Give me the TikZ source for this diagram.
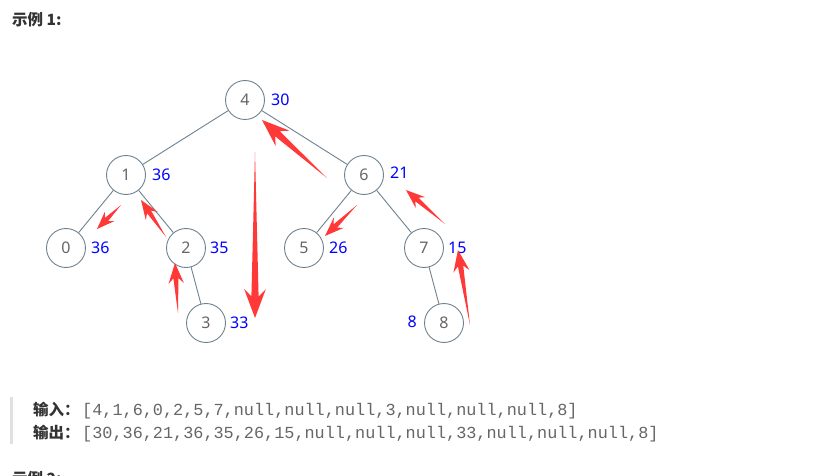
\documentclass[tikz,border=0pt]{standalone}
\usepackage{fontspec}
\setmainfont{Noto Sans}
\newfontfamily\cjk{Noto Sans CJK SC}
\setmonofont{Liberation Mono}
\usetikzlibrary{calc}
\definecolor{edgec}{HTML}{6F8290}
\definecolor{numc}{HTML}{666666}
\definecolor{valc}{HTML}{0000FF}
\definecolor{arr}{HTML}{FF3838}
\definecolor{txt}{HTML}{333333}
\definecolor{code}{HTML}{666666}
\tikzset{
  tn/.style={circle,draw=edgec,line width=0.9pt,minimum size=39pt,inner sep=0pt,
    font=\fontsize{16}{16}\selectfont,text=numc},
  val/.style={font=\fontsize{16}{16}\selectfont,text=valc,inner sep=0pt},
  edge/.style={draw=edgec,line width=0.9pt},
  codetext/.style={font=\ttfamily\fontsize{16.85}{16.85}\selectfont,text=code,inner sep=0pt,anchor=base west},
  label/.style={font=\cjk\bfseries\fontsize{15.5}{15.5}\selectfont,text=txt,inner sep=0pt,anchor=base west}
}
\newcommand\redarrow[3][1]{%
  \path ($(#3)!#1*18pt!(#2)$) coordinate (ra-b) ($(#3)!#1*24pt!(#2)$) coordinate (ra-w);
  \fill[arr] (#2) -- ($(ra-b)!#1*3pt!90:(#3)$) -- ($(ra-w)!#1*9pt!90:(#3)$) -- (#3)
    -- ($(ra-w)!#1*9pt!-90:(#3)$) -- ($(ra-b)!#1*3pt!-90:(#3)$) -- cycle;}
\begin{document}
\begin{tikzpicture}[x=1pt,y=-1pt]
\useasboundingbox[fill=white] (0,0) rectangle (828,476);
% title
\node[label] (t1) at (12,26) {示例 1:};
% tree nodes
\node[tn] (n4) at (245,100) {4};
\node[tn] (n1) at (126,175) {1};
\node[tn] (n6) at (364,175) {6};
\node[tn] (n0) at (66,248) {0};
\node[tn] (n2) at (186,248) {2};
\node[tn] (n5) at (304,248) {5};
\node[tn] (n7) at (424,248) {7};
\node[tn] (n3) at (206,323) {3};
\node[tn] (n8) at (444,323) {8};
% edges
\draw[edge] (n4) -- (n1);
\draw[edge] (n4) -- (n6);
\draw[edge] (n1) -- (n0);
\draw[edge] (n1) -- (n2);
\draw[edge] (n6) -- (n5);
\draw[edge] (n6) -- (n7);
\draw[edge] (n2) -- (n3);
\draw[edge] (n7) -- (n8);
% values
\node[val,anchor=west] (v4) at (271,100) {30};
\node[val,anchor=west] (v1) at (152,175) {36};
\node[val,anchor=west] (v6) at (390,173) {21};
\node[val,anchor=west] (v0) at (91,248) {36};
\node[val,anchor=west] (v2) at (210,248) {35};
\node[val,anchor=west] (v5) at (329,248) {26};
\node[val,anchor=west] (v7) at (448,248) {15};
\node[val,anchor=west] (v3) at (230,323) {33};
\node[val,anchor=east] (v8) at (417,322) {8};
% red arrows
\coordinate (a1t) at (327,178); \coordinate (a1h) at (262,120);
\coordinate (a2t) at (255,152); \coordinate (a2h) at (255,318);
\coordinate (a3t) at (121,205); \coordinate (a3h) at (97,229);
\coordinate (a4t) at (166,237); \coordinate (a4h) at (141,200);
\coordinate (a5t) at (178,313); \coordinate (a5h) at (175,263);
\coordinate (a6t) at (357,205); \coordinate (a6h) at (325,236);
\coordinate (a7t) at (445,224); \coordinate (a7h) at (406,190);
\coordinate (a8t) at (470,325); \coordinate (a8h) at (458,250);
\redarrow[1.15]{a1t}{a1h}
\redarrow[1.2]{a2t}{a2h}
\redarrow[0.75]{a3t}{a3h}
\redarrow[0.8]{a4t}{a4h}
\redarrow[0.85]{a5t}{a5h}
\redarrow[0.8]{a6t}{a6h}
\redarrow[0.8]{a7t}{a7h}
\redarrow[0.9]{a8t}{a8h}
% example block
\fill[black!12] (10,397) rectangle (12.5,444);
\node[label] (in) at (33,415) {输入：};
\node[codetext] (inv) at (82,415) {[4,1,6,0,2,5,7,null,null,null,3,null,null,null,8]};
\node[label] (out) at (33,438) {输出：};
\node[codetext] (outv) at (82,438) {[30,36,21,36,35,26,15,null,null,null,33,null,null,null,8]};
\node[label] (t2) at (12,484) {示例 2:};
\end{tikzpicture}
\end{document}
